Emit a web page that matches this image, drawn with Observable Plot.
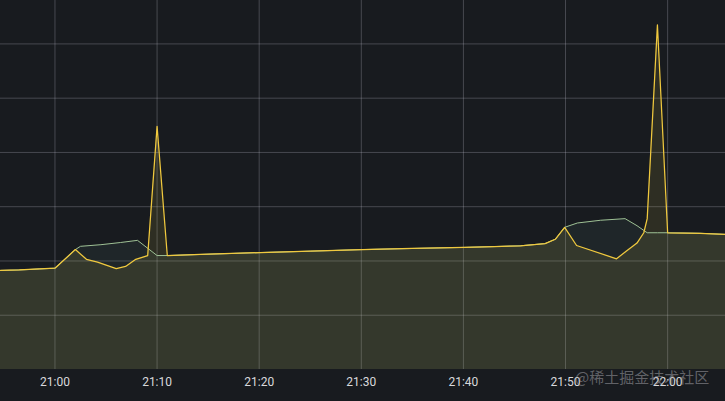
<!DOCTYPE html>
<html>
<head>
<meta charset="utf-8">
<script src="https://cdn.jsdelivr.net/npm/d3@7"></script>
<script src="https://cdn.jsdelivr.net/npm/@observablehq/plot@0.6"></script>
<style>
  html, body { margin: 0; padding: 0; background: #181b1f; }
  #wrap { position: relative; width: 725px; height: 401px; overflow: hidden; }
  #mark { position: absolute; left: 575px; top: 366px; font: 15px "Noto Sans CJK SC", sans-serif; color: rgba(170,170,175,0.5); white-space: nowrap; }
</style>
</head>
<body>
<div id="wrap"><div id="mark">@稀土掘金技术社区</div></div>
<script>
const day = "2023-01-01T";
const xTicks = ["21:00", "21:10", "21:20", "21:30", "21:40", "21:50", "22:00"];
const yTicks = [1, 2, 3, 4, 5, 6];

const yellowTimes = ["20:54:40", "20:56:30", "20:58:30", "21:00:00", "21:02:00", "21:03:05", "21:04:10", "21:06:00", "21:06:55", "21:07:55", "21:09:05", "21:10:00", "21:11:00", "21:14:15", "21:20:05", "21:25:00", "21:30:05", "21:35:00", "21:40:05", "21:43:00", "21:45:35", "21:48:00", "21:49:00", "21:49:55", "21:51:05", "21:55:00", "21:56:00", "21:57:00", "21:57:40", "21:58:00", "21:59:00", "22:00:00", "22:03:10", "22:05:40"];
const yellowValues = [1.825, 1.834, 1.853, 1.867, 2.21, 2.03, 1.98, 1.86, 1.90, 2.03, 2.10, 4.48, 2.10, 2.12, 2.155, 2.18, 2.21, 2.23, 2.25, 2.265, 2.28, 2.32, 2.40, 2.62, 2.285, 2.04, 2.19, 2.33, 2.52, 2.78, 6.35, 2.52, 2.51, 2.49];

const greenTimes = ["20:54:40", "20:56:30", "20:58:30", "21:00:00", "21:02:00", "21:02:30", "21:04:30", "21:06:25", "21:08:05", "21:10:00", "21:11:00", "21:14:15", "21:20:05", "21:25:00", "21:30:05", "21:35:00", "21:40:05", "21:43:00", "21:45:35", "21:48:00", "21:49:00", "21:49:55", "21:51:10", "21:53:25", "21:55:50", "21:57:00", "21:58:00", "21:59:00", "22:00:00", "22:03:10", "22:05:40"];
const greenValues = [1.825, 1.834, 1.853, 1.867, 2.21, 2.27, 2.30, 2.34, 2.38, 2.10, 2.10, 2.12, 2.155, 2.18, 2.21, 2.23, 2.25, 2.265, 2.28, 2.32, 2.40, 2.62, 2.70, 2.75, 2.78, 2.65, 2.52, 2.52, 2.52, 2.51, 2.49];

const parse = s => new Date(day + s);
const yellow = yellowTimes.map((t, i) => ({t: parse(t), v: yellowValues[i]}));
const green = greenTimes.map((t, i) => ({t: parse(t), v: greenValues[i]}));
const tickDates = xTicks.map(s => parse(s + ":00"));

const chart = Plot.plot({
  width: 725,
  height: 401,
  marginTop: 0,
  marginBottom: 32,
  marginLeft: 0,
  marginRight: 0,
  style: { background: "#181b1f", color: "#ccccdc", fontFamily: "Roboto, sans-serif", fontSize: "12px" },
  x: { type: "time", domain: [parse("20:54:40"), parse("22:05:40")], label: null },
  y: { domain: [0, 6.8], axis: null },
  marks: [
    Plot.gridY(yTicks, { stroke: "#ccccdc", strokeOpacity: 0.26 }),
    Plot.gridX(tickDates, { stroke: "#ccccdc", strokeOpacity: 0.26 }),
    Plot.areaY(green, { x: "t", y: "v", fill: "#6fb8a0", fillOpacity: 0.08 }),
    Plot.areaY(yellow, { x: "t", y: "v", fill: "#F2D84A", fillOpacity: 0.1 }),
    Plot.lineY(green, { x: "t", y: "v", stroke: "#9ec094", strokeWidth: 1 }),
    Plot.lineY(yellow, { x: "t", y: "v", stroke: "#f0c93e", strokeWidth: 1.25 }),
    Plot.axisX({ ticks: tickDates, tickFormat: d3.timeFormat("%H:%M"), tickSize: 0, tickPadding: 8, fill: "#d8d9dc", fontSize: 12, label: null })
  ]
});
document.getElementById("wrap").prepend(chart);
</script>
</body>
</html>
